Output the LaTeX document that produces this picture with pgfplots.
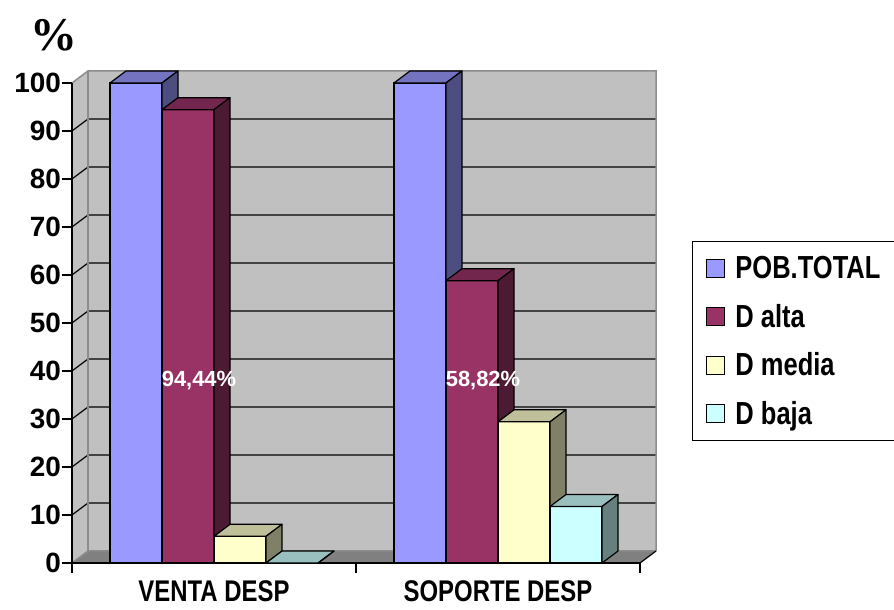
\documentclass[border=0pt]{standalone}
\usepackage{graphicx}
\usepackage{pgfplots}
\usepackage{pgfplotstable}
\pgfplotsset{compat=1.18}
\usepackage{fontspec}
\setmainfont{Liberation Sans}
\newfontfamily\serifbold{Liberation Serif}

\definecolor{cBlue}{HTML}{9999FF}\definecolor{tBlue}{HTML}{7373BF}\definecolor{sBlue}{HTML}{4D4D80}
\definecolor{cRed}{HTML}{993366}\definecolor{tRed}{HTML}{73264D}\definecolor{sRed}{HTML}{4D1A33}
\definecolor{cYel}{HTML}{FFFFCC}\definecolor{tYel}{HTML}{BFBF99}\definecolor{sYel}{HTML}{808066}
\definecolor{cCya}{HTML}{CCFFFF}\definecolor{tCya}{HTML}{99BFBF}\definecolor{sCya}{HTML}{668080}
\definecolor{wallgray}{HTML}{C0C0C0}
\definecolor{floorgray}{HTML}{808080}
\definecolor{edgegray}{HTML}{8C8C8C}

% 3D top and side faces of a bar, drawn as a mark at the top of each bar
\newcommand\defcube[3]{%
\pgfdeclareplotmark{#1}{%
  \pgfmathsetmacro\hh{\val*4.8}%
  \pgfmathsetmacro\hb{12-\val*4.8}%
  \pgfsetlinewidth{1.2bp}\pgfsetstrokecolor{black}\pgfsetroundjoin
  \pgfsetfillcolor{#2}%
  \pgfpathmoveto{\pgfqpoint{-26bp}{0bp}}%
  \pgfpathlineto{\pgfqpoint{26bp}{0bp}}%
  \pgfpathlineto{\pgfqpoint{42bp}{12bp}}%
  \pgfpathlineto{\pgfqpoint{-10bp}{12bp}}%
  \pgfpathclose
  \pgfusepath{fill,stroke}%
  \pgfsetfillcolor{#3}%
  \pgfpathmoveto{\pgfqpoint{26bp}{0bp}}%
  \pgfpathlineto{\pgfqpoint{42bp}{12bp}}%
  \pgfpathlineto{\pgfqpoint{42bp}{\hb bp}}%
  \pgfpathlineto{\pgfqpoint{26bp}{-\hh bp}}%
  \pgfpathclose
  \pgfusepath{fill,stroke}%
}}
\defcube{cubeBlue}{tBlue}{sBlue}
\defcube{cubeRed}{tRed}{sRed}
\defcube{cubeYel}{tYel}{sYel}
\defcube{cubeCya}{tCya}{sCya}

\pgfplotstableread{
x pob alta media baja
0 100 94.44 5.56 0
1 100 58.82 29.41 11.76
}\datatable

\pgfplotsset{
  frontbar/.style={ybar, bar width=52bp, draw=black, line width=1.2bp,
    legend image code/.code={\draw[##1,draw=black,line width=1bp] (0bp,-9bp) rectangle (18bp,9bp);}},
  faces/.style={only marks, forget plot, line width=1.2bp, visualization depends on={rawy \as \val}},
}

\begin{document}
\begin{tikzpicture}
\useasboundingbox (0,0) rectangle (894bp,610bp);
\begin{scope}[x=1bp,y=1bp]
  \fill[wallgray] (72,47) -- (88,59) -- (88,539) -- (72,527) -- cycle;
  \fill[wallgray] (88,59) rectangle (656,539);
  \fill[floorgray] (72,47) -- (640,47) -- (656,59) -- (88,59) -- cycle;
  \foreach \v in {10,20,...,90}{
    \draw[line width=1.2bp] (72,47+4.8*\v) -- (88,59+4.8*\v) -- (656,59+4.8*\v);
  }
  \draw[edgegray, line width=1.5bp] (72,47) -- (88,59) -- (656,59);
  \draw[edgegray, line width=1.5bp] (88,59) -- (88,539);
  \draw[edgegray, line width=1.5bp] (72,527) -- (88,539) -- (656,539) -- (656,59);
  \draw[black, line width=1.2bp] (640,47) -- (656,59);
  \node[font=\serifbold\bfseries\fontsize{47}{47}\selectfont] at (54,575) {\%};
\end{scope}
\begin{axis}[
  at={(72bp,47bp)}, anchor=south west,
  width=568bp, height=480bp, scale only axis,
  xmin=-0.5, xmax=1.5, ymin=0, ymax=100,
  clip=false, clip marker paths=true,
  axis lines*=left,
  axis line style={black, line width=1.5bp},
  tick align=outside,
  major tick length=10bp,
  tick style={black, line width=1.2bp},
  ytick={0,10,...,100},
  xtick={-0.5,0.5,1.5},
  xticklabels={},
  extra x ticks={0,1},
  extra x tick labels={\scalebox{0.8}[1]{VENTA DESP},\scalebox{0.8}[1]{SOPORTE DESP}},
  extra x tick style={tick style={draw=none}},
  /pgf/number format/assume math mode=true,
  yticklabel style={font=\bfseries\fontsize{28}{28}\selectfont, inner sep=1bp},
  xticklabel style={font=\bfseries\fontsize{30}{30}\selectfont, yshift=-4bp},
  legend style={at={(1.0915,0.6708)}, anchor=north west, draw=black, line width=1bp,
    fill=white, font=\bfseries\fontsize{32}{32}\selectfont,
    inner xsep=14bp, inner ysep=13bp, row sep=20bp,
    /tikz/every odd column/.append style={column sep=8bp}},
  legend cell align=left,
]
\addplot[frontbar, bar shift=-78bp, fill=cBlue] table[x=x, y=pob] {\datatable};
\addlegendentry{\scalebox{0.8}[1]{POB.TOTAL}}
\addplot[faces, mark=cubeBlue, xshift=-78bp] table[x=x, y=pob] {\datatable};
\addplot[frontbar, bar shift=-26bp, fill=cRed] table[x=x, y=alta] {\datatable};
\addlegendentry{\scalebox{0.8}[1]{D alta}}
\addplot[faces, mark=cubeRed, xshift=-26bp] table[x=x, y=alta] {\datatable};
\addplot[frontbar, bar shift=26bp, fill=cYel] table[x=x, y=media] {\datatable};
\addlegendentry{\scalebox{0.8}[1]{D media}}
\addplot[faces, mark=cubeYel, xshift=26bp] table[x=x, y=media] {\datatable};
\addplot[frontbar, bar shift=78bp, fill=cCya] table[x=x, y=baja] {\datatable};
\addlegendentry{\scalebox{0.8}[1]{D baja}}
\addplot[faces, mark=cubeCya, xshift=78bp] table[x=x, y=baja] {\datatable};
\node[text=white, font=\bfseries\fontsize{22}{22}\selectfont, xshift=-15bp] at (axis cs:0,38) {94,44\%};
\node[text=white, font=\bfseries\fontsize{22}{22}\selectfont, xshift=-15bp] at (axis cs:1,38) {58,82\%};
\end{axis}
\end{tikzpicture}
\end{document}
